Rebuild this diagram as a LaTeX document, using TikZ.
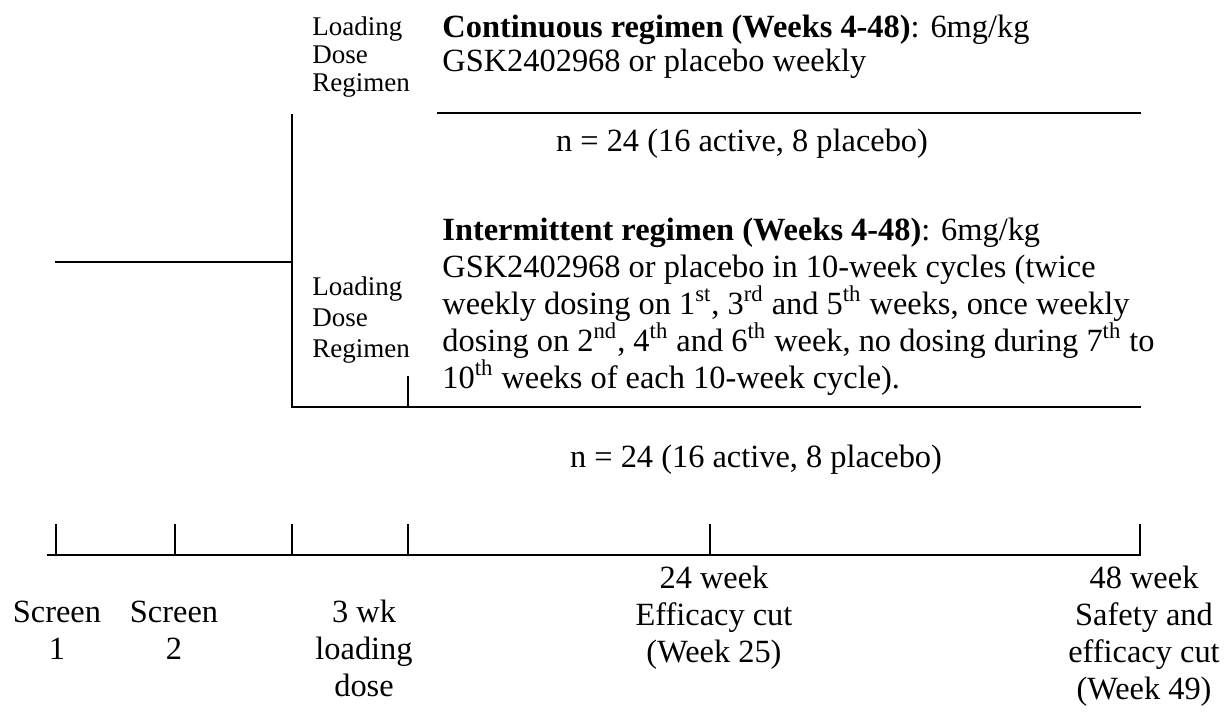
\documentclass[tikz,border=0pt]{standalone}
\usepackage{fontspec}
\setmainfont{Liberation Serif}
\begin{document}
\begin{tikzpicture}[x=0.5pt,y=-0.5pt,
  ln/.style={line width=1.1pt, line cap=rect},
  main/.style={inner sep=0pt, font=\fontsize{16.2}{17}\selectfont, align=left, anchor=base west},
  inter/.style={inner sep=0pt, font=\fontsize{16.2}{18.5}\selectfont, align=left, anchor=base west},
  small/.style={inner sep=0pt, font=\fontsize{13.5}{14}\selectfont, align=left, anchor=base west},
  small2/.style={inner sep=0pt, font=\fontsize{13.5}{15.5}\selectfont, align=left, anchor=base west},
  count/.style={inner sep=0pt, font=\fontsize{16.2}{18}\selectfont, anchor=base},
  tlab/.style={inner sep=0pt, font=\fontsize{16.2}{18.5}\selectfont, align=center, anchor=base}]
\useasboundingbox (0,0) rectangle (1229,713);
% texts (base anchor = baseline of last line)
\node[small] (ld1) at (312,91) {Loading\\Dose\\Regimen};
\node[main] (cont) at (442,71) {\textbf{Continuous regimen (Weeks 4-48)}: 6mg/kg\\GSK2402968 or placebo weekly};
\node[count] (n1) at (742,151) {n = 24 (16 active, 8 placebo)};
\node[small2] (ld2) at (312,357) {Loading\\Dose\\Regimen};
\node[inter] (int) at (442,388) {\textbf{Intermittent regimen (Weeks 4-48)}: 6mg/kg\\GSK2402968 or placebo in 10-week cycles (twice\\weekly dosing on 1\textsuperscript{st}, 3\textsuperscript{rd} and 5\textsuperscript{th} weeks, once weekly\\dosing on 2\textsuperscript{nd}, 4\textsuperscript{th} and 6\textsuperscript{th} week, no dosing during 7\textsuperscript{th} to\\10\textsuperscript{th} weeks of each 10-week cycle).};
\node[count] (n2) at (756,467) {n = 24 (16 active, 8 placebo)};
\node[tlab] (s1) at (57,659) {Screen\\1};
\node[tlab] (s2) at (174,659) {Screen\\2};
\node[tlab] (ld) at (364,696) {3 wk\\loading\\dose};
\node[tlab] (w24) at (714,662) {24 week\\Efficacy cut\\(Week 25)};
\node[tlab] (w48) at (1144,699) {48 week\\Safety and\\efficacy cut\\(Week 49)};
% branch lines
\coordinate (a0) at (56,262);
\coordinate (a1) at (292,262);
\coordinate (vt) at (292,115);
\coordinate (vb) at (292,407);
\coordinate (c0) at (438,113);
\coordinate (c1) at (1140,113);
\coordinate (i1) at (1140,407);
\coordinate (k0) at (408,377);
\coordinate (k1) at (408,407);
\draw[ln] (a0) -- (a1);
\draw[ln] (vt) -- (vb) -- (i1);
\draw[ln] (c0) -- (c1);
\draw[ln] (k0) -- (k1);
% timeline
\coordinate (t0) at (48,555);
\coordinate (t1) at (1140,555);
\draw[ln] (t0) -- (t1);
\foreach \x/\n in {56/p1,175/p2,292/p3,408/p4,710/p5,1140/p6}{
  \coordinate (\n top) at (\x,525);
  \coordinate (\n bot) at (\x,555);
  \draw[ln] (\n top) -- (\n bot);
}
\end{tikzpicture}
\end{document}
